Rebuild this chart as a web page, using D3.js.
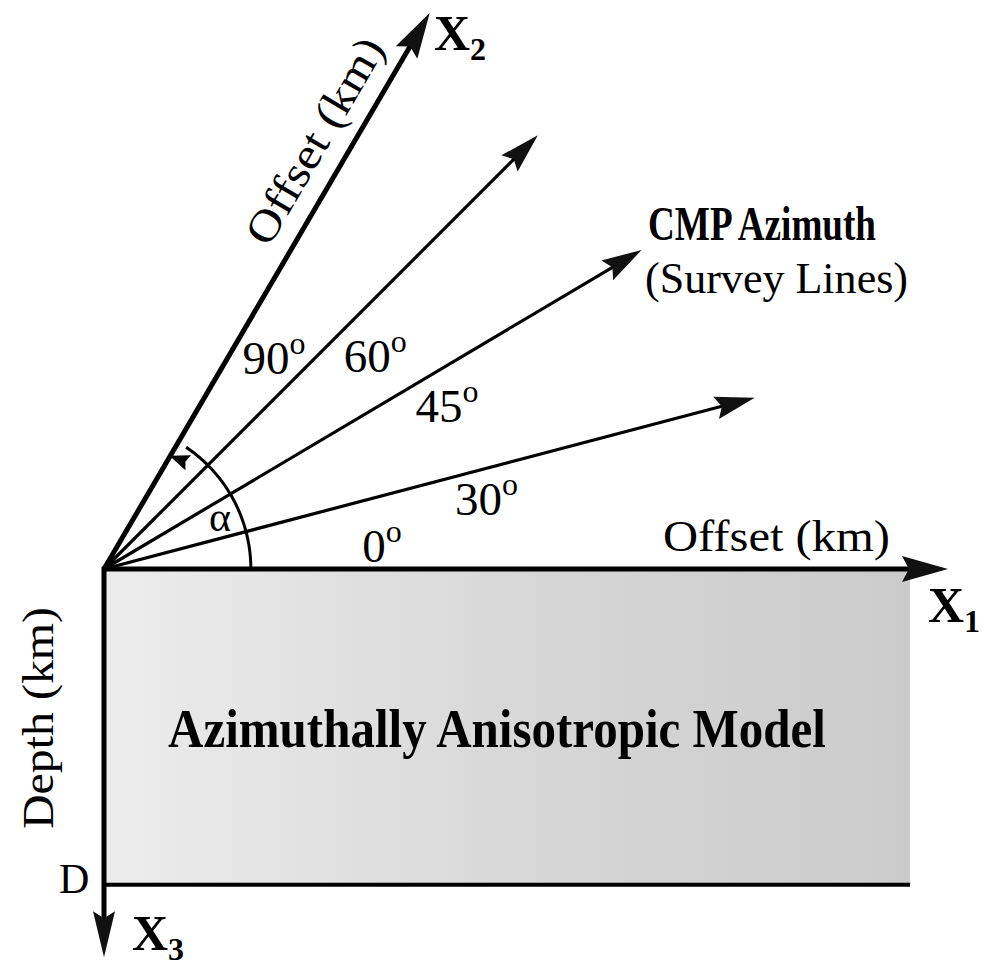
<!DOCTYPE html>
<html>
<head>
<meta charset="utf-8">
<script src="https://cdn.jsdelivr.net/npm/d3@7"></script>
<style>
  body { margin: 0; background: #fff; }
  svg text { font-family: "Liberation Serif", "Times New Roman", serif; fill: #000; }
</style>
</head>
<body>
<svg id="chart" width="983" height="972"></svg>
<script>
// ray tips in diagram units (x along X1, y up along the page)
const rayNames = ["X2", "60", "45", "30"];
const rayTipX = [3.86, 5.14, 6.37, 7.71];
const rayTipY = [6.59, 5.14, 3.78, 2.03];
const azimuthLabels = ["90", "60", "45", "30", "0"];
const azimuthLabelX = [1.64, 2.84, 3.69, 4.16, 3.06];
const azimuthLabelY = [2.31, 2.34, 1.74, 0.64, 0.08];

const axisX1End = 10;     // X1 arrow tip
const modelRight = 9.55;  // right edge of model box
const depthD = 3.74;      // depth of bottom boundary D
const axisX3End = 4.6;    // X3 arrow tip
const alphaRadius = 1.74; // radius of the alpha arc
const alphaEnd = 56;      // degrees

// scales
const sx = d3.scaleLinear().domain([0, 10]).range([104, 948]);
const sy = d3.scaleLinear().domain([0, 10]).range([569, -275]);
const sz = d3.scaleLinear().domain([0, 10]).range([569, 1413]);

const svg = d3.select('#chart');

// shading for the model
const defs = svg.append('defs');
const grad = defs.append('linearGradient').attr('id', 'shade');
grad.append('stop').attr('offset', '0%').attr('stop-color', '#ececec');
grad.append('stop').attr('offset', '55%').attr('stop-color', '#d6d6d6');
grad.append('stop').attr('offset', '100%').attr('stop-color', '#cbcbcb');

svg.append('rect')
  .attr('x', sx(0))
  .attr('y', sz(0))
  .attr('width', sx(modelRight) - sx(0))
  .attr('height', sz(depthD) - sz(0))
  .attr('fill', 'url(#shade)');

// arrowhead polygon at a tip, pointing along (dx,dy)
function head(tx, ty, dx, dy, len, half) {
  const n = Math.hypot(dx, dy);
  const ux = dx / n, uy = dy / n;
  const bx = tx - ux * len, by = ty - uy * len;
  const nx = tx - ux * len * 0.85, ny = ty - uy * len * 0.85;
  return `M${tx},${ty} L${bx - uy * half},${by + ux * half} L${nx},${ny} L${bx + uy * half},${by - ux * half} Z`;
}

const ox = sx(0), oy = sy(0);

// rays
rayNames.forEach((name, i) => {
  const tx = sx(rayTipX[i]), ty = sy(rayTipY[i]);
  const big = name === 'X2';
  const len = big ? 46 : 40;
  const n = Math.hypot(tx - ox, ty - oy);
  svg.append('line')
    .attr('x1', ox).attr('y1', oy)
    .attr('x2', tx - (tx - ox) / n * len * 0.8)
    .attr('y2', ty - (ty - oy) / n * len * 0.8)
    .attr('stroke', '#000')
    .attr('stroke-width', big ? 5 : 3.2);
  svg.append('path')
    .attr('d', head(tx, ty, tx - ox, ty - oy, len, big ? 12.5 : 11.5))
    .attr('fill', '#111');
});

// X1 axis
svg.append('line')
  .attr('x1', ox - 2).attr('y1', oy)
  .attr('x2', sx(axisX1End) - 36).attr('y2', oy)
  .attr('stroke', '#000').attr('stroke-width', 5);
svg.append('path')
  .attr('d', head(sx(axisX1End), oy, 1, 0, 46, 13))
  .attr('fill', '#111');

// X3 axis
svg.append('line')
  .attr('x1', ox).attr('y1', oy - 2)
  .attr('x2', ox).attr('y2', sz(axisX3End) - 36)
  .attr('stroke', '#000').attr('stroke-width', 5);
svg.append('path')
  .attr('d', head(ox, sz(axisX3End), 0, 1, 46, 11))
  .attr('fill', '#111');

// bottom boundary D
svg.append('line')
  .attr('x1', ox).attr('y1', sz(depthD))
  .attr('x2', sx(modelRight)).attr('y2', sz(depthD))
  .attr('stroke', '#000').attr('stroke-width', 4);

// alpha arc
const r = sx(alphaRadius) - sx(0);
const arcPts = d3.range(0, alphaEnd + 0.5, 1).map(a => [
  ox + r * Math.cos(a * Math.PI / 180),
  oy - r * Math.sin(a * Math.PI / 180)
]);
svg.append('path')
  .attr('d', d3.line()(arcPts))
  .attr('fill', 'none')
  .attr('stroke', '#000')
  .attr('stroke-width', 3);
const ae = (alphaEnd + 4) * Math.PI / 180;
const atx = ox + r * Math.cos(ae) - 8, aty = oy - r * Math.sin(ae) + 14;
svg.append('path')
  .attr('d', head(atx, aty, -Math.sin(ae) - 0.5, -Math.cos(ae), 20, 8))
  .attr('fill', '#000');

// azimuth labels
azimuthLabels.forEach((lab, i) => {
  const t = svg.append('text')
    .attr('x', sx(azimuthLabelX[i]))
    .attr('y', sy(azimuthLabelY[i]))
    .attr('font-size', 47);
  t.append('tspan').text(lab);
  t.append('tspan').attr('dy', -20).attr('font-size', 32).text('o');
});

svg.append('text')
  .attr('x', 209).attr('y', 531)
  .attr('font-size', 42)
  .text('α');

// axis titles
svg.append('text')
  .attr('x', 663).attr('y', 551)
  .attr('font-size', 44)
  .attr('textLength', 227).attr('lengthAdjust', 'spacingAndGlyphs')
  .text('Offset (km)');

const a2 = Math.atan2(oy - sy(rayTipY[0]), sx(rayTipX[0]) - ox);
const L = 476;
svg.append('text')
  .attr('transform', `translate(${ox + L * Math.cos(a2)},${oy - L * Math.sin(a2)}) rotate(${-a2 * 180 / Math.PI})`)
  .attr('x', 0).attr('y', -20)
  .attr('text-anchor', 'middle')
  .attr('font-size', 44)
  .attr('textLength', 232).attr('lengthAdjust', 'spacingAndGlyphs')
  .text('Offset (km)');

svg.append('text')
  .attr('transform', 'translate(53,718) rotate(-90)')
  .attr('text-anchor', 'middle')
  .attr('font-size', 44)
  .attr('textLength', 222).attr('lengthAdjust', 'spacingAndGlyphs')
  .text('Depth (km)');

svg.append('text')
  .attr('x', 59).attr('y', 893)
  .attr('font-size', 42)
  .text('D');

// axis names
function axisName(x, y, sub) {
  const t = svg.append('text')
    .attr('x', x).attr('y', y)
    .attr('font-size', 50).attr('font-weight', 'bold');
  t.append('tspan').text('X');
  t.append('tspan').attr('dy', 10).attr('font-size', 32).text(sub);
}
axisName(434, 50, '2');
axisName(928, 622, '1');
axisName(132, 950, '3');

// headings
svg.append('text')
  .attr('x', 648).attr('y', 240)
  .attr('font-size', 48).attr('font-weight', 'bold')
  .attr('textLength', 228).attr('lengthAdjust', 'spacingAndGlyphs')
  .text('CMP Azimuth');

svg.append('text')
  .attr('x', 645).attr('y', 293)
  .attr('font-size', 44)
  .attr('textLength', 263).attr('lengthAdjust', 'spacingAndGlyphs')
  .text('(Survey Lines)');

svg.append('text')
  .attr('x', 168).attr('y', 747)
  .attr('font-size', 54).attr('font-weight', 'bold')
  .attr('textLength', 658).attr('lengthAdjust', 'spacingAndGlyphs')
  .text('Azimuthally Anisotropic Model');
</script>
</body>
</html>
